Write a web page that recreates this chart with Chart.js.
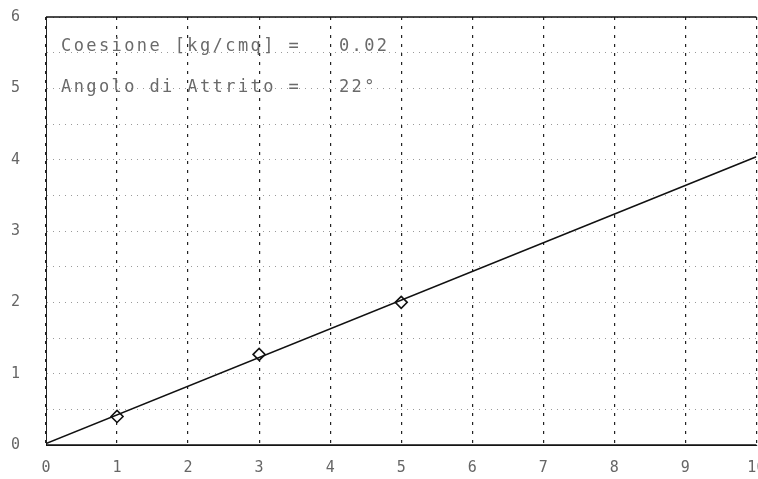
<!DOCTYPE html>
<html>
<head>
<meta charset="utf-8">
<script src="https://cdn.jsdelivr.net/npm/chart.js@4"></script>
<style>
  html, body { margin: 0; padding: 0; background: #fff; overflow: hidden; }
  canvas { display: block; }
</style>
</head>
<body>
<!-- canvas is a bit wider than the window so the "10" label is cut like the scan -->
<canvas id="plot" width="764" height="479"></canvas>
<script>
// measured points (tension / pressure)
var pointX = [1, 3, 5];
var pointY = [0.4, 1.27, 2.0];

// fitted strength line
var lineX = [0, 10];
var lineY = [0.02, 4.04];

var xTicks = [0, 1, 2, 3, 4, 5, 6, 7, 8, 9, 10];
var yTicks = [0, 1, 2, 3, 4, 5, 6];

var infoLines = ["Coesione [kg/cmq] =   0.02", "Angolo di Attrito =   22°"];

var monoFont = "'DejaVu Sans Mono', 'Liberation Mono', monospace";

function toXY(xs, ys) {
  return xs.map(function (x, i) { return { x: x, y: ys[i] }; });
}

// frame lines + the text box
const framePlugin = {
  id: "frame",
  afterDraw(chart) {
    const ctx = chart.ctx;
    const a = chart.chartArea;
    ctx.save();
    ctx.strokeStyle = "#111";
    ctx.lineWidth = 1.5;
    ctx.beginPath();
    ctx.moveTo(a.left, a.top);
    ctx.lineTo(a.right, a.top);
    ctx.moveTo(a.left, a.bottom);
    ctx.lineTo(a.right, a.bottom);
    ctx.stroke();

    ctx.fillStyle = "#6a6a6a";
    ctx.font = "17px " + monoFont;
    ctx.letterSpacing = "2.4px";
    ctx.textBaseline = "middle";
    ctx.fillText(infoLines[0], a.left + 15, 47);
    ctx.fillText(infoLines[1], a.left + 15, 88);
    ctx.restore();
  },
};

const ctx = document.getElementById("plot").getContext("2d");
const chart = new Chart(ctx, {
  type: "scatter",
  data: {
    datasets: [
      {
        label: "Retta",
        data: toXY(lineX, lineY),
        showLine: true,
        borderColor: "#111",
        borderWidth: 1.6,
        pointRadius: 0,
        fill: false,
      },
      {
        label: "Prove",
        data: toXY(pointX, pointY),
        showLine: false,
        pointStyle: "rectRot",
        pointRadius: 6,
        borderWidth: 1.6,
        borderColor: "#111",
        backgroundColor: "#fff",
      },
    ],
  },
  options: {
    responsive: false,
    animation: false,
    layout: { padding: { top: 17, right: 0, left: 0, bottom: 0 } },
    plugins: {
      legend: { display: false },
      tooltip: { enabled: false },
    },
    scales: {
      x: {
        type: "linear",
        min: 0,
        max: 10,
        afterBuildTicks: function (scale) {
          scale.ticks = xTicks.map(function (v) { return { value: v }; });
        },
        afterFit: function (scale) {
          scale.height = 34;
          scale.paddingLeft = 0;
          scale.paddingRight = 0;
        },
        grid: { color: "#222", lineWidth: 1.2, drawTicks: false },
        border: { display: true, color: "#222", dash: [3, 6] },
        ticks: {
          padding: 14,
          autoSkip: false,
          color: "#666",
          font: { family: monoFont, size: 15 },
          maxRotation: 0,
        },
      },
      y: {
        type: "linear",
        min: 0,
        max: 6,
        afterBuildTicks: function (scale) {
          var t = [];
          for (var v = 0; v <= 6; v += 0.5) t.push({ value: v });
          scale.ticks = t;
        },
        afterFit: function (scale) {
          scale.width = 46;
          scale.paddingTop = 0;
          scale.paddingBottom = 0;
        },
        grid: { color: "#9a9a9a", lineWidth: 1, drawTicks: false },
        border: { display: true, color: "#222", dash: [1, 5] },
        ticks: {
          padding: 26,
          autoSkip: false,
          color: "#666",
          font: { family: monoFont, size: 15 },
          callback: function (v) {
            return yTicks.indexOf(v) >= 0 ? String(v) : "";
          },
        },
      },
    },
  },
  plugins: [framePlugin],
});
</script>
</body>
</html>
